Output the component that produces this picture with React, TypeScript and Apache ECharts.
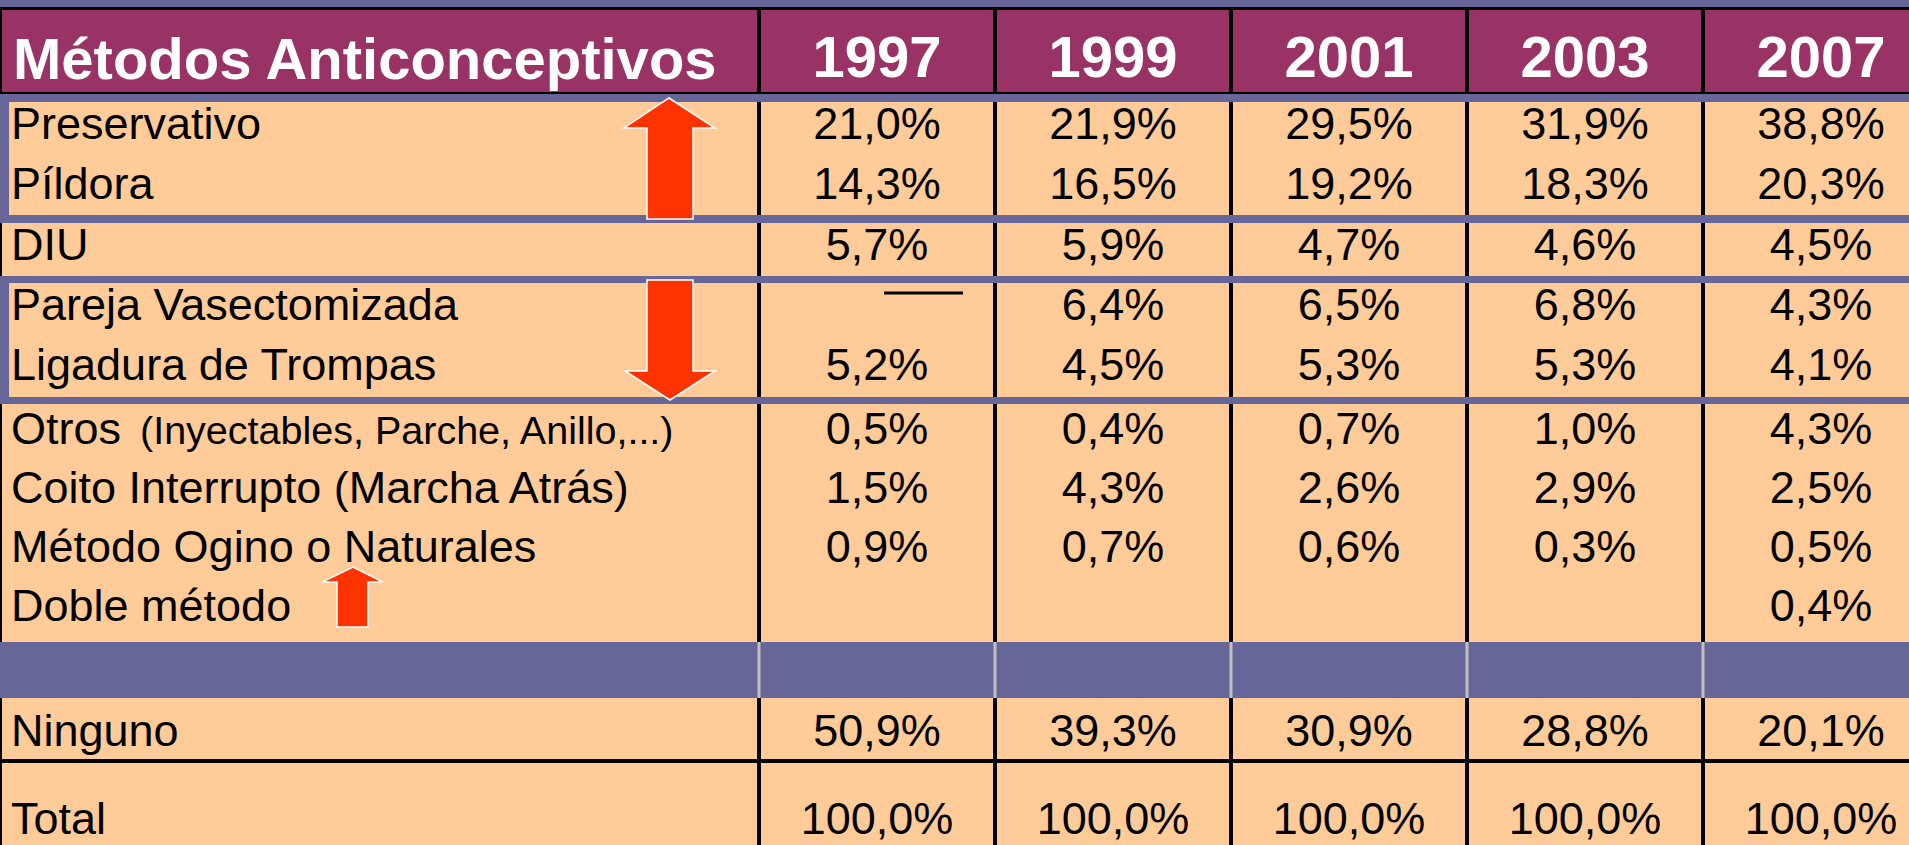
import React, { useEffect, useRef } from 'react';
import * as echarts from 'echarts';

// ---------------- data ----------------
const headerTitle = 'Métodos Anticonceptivos';
const years = ['1997', '1999', '2001', '2003', '2007'];
const methods = [
  'Preservativo',
  'Píldora',
  'DIU',
  'Pareja Vasectomizada',
  'Ligadura de Trompas',
  'Otros',
  'Coito Interrupto (Marcha Atrás)',
  'Método Ogino o Naturales',
  'Doble método',
];
const otrosNote = '(Inyectables, Parche, Anillo,...)';
const NOT_SURVEYED = 'n/d'; // drawn as a dash in the table
const v1997: (number | string | null)[] = [21.0, 14.3, 5.7, NOT_SURVEYED, 5.2, 0.5, 1.5, 0.9, null];
const v1999: (number | string | null)[] = [21.9, 16.5, 5.9, 6.4, 4.5, 0.4, 4.3, 0.7, null];
const v2001: (number | string | null)[] = [29.5, 19.2, 4.7, 6.5, 5.3, 0.7, 2.6, 0.6, null];
const v2003: (number | string | null)[] = [31.9, 18.3, 4.6, 6.8, 5.3, 1.0, 2.9, 0.3, null];
const v2007: (number | string | null)[] = [38.8, 20.3, 4.5, 4.3, 4.1, 4.3, 2.5, 0.5, 0.4];
const summaryLabels = ['Ninguno', 'Total'];
const ninguno = [50.9, 39.3, 30.9, 28.8, 20.1];
const total = [100.0, 100.0, 100.0, 100.0, 100.0];

const valuesByYear = [v1997, v1999, v2001, v2003, v2007];

// ---------------- layout & style ----------------
const W = 1909;
const H = 845;
const FONT = '"Liberation Sans", Arial, sans-serif';
const BODY_FS = 45;
const NOTE_FS = 39.5;
const HEAD_FS = 58;
const C_HEAD = '#993366';
const C_BODY = '#FFCC99';
const C_BLUE = '#666699';
const C_GRAY = '#C0C0C0';
const C_ARROW = '#FF3300';

const LABEL_X = 11;
const NOTE_X = 140;
const COL0 = 759;
const COL_W = 236;
const colCenter = (i: number) => COL0 + COL_W * (i + 0.5);
const colEdge = (i: number) => COL0 + COL_W * i;

const HEAD_TOP = 10;
const HEAD_BOTTOM = 93;
const HEAD_TEXT_Y = 56;
const ROW_Y = [123, 183, 244, 304, 364, 428, 487, 546, 605];
const SUMMARY_Y = [730, 818];
const BLUE_LINES = [[94, 102], [215, 223], [276, 283], [397, 404]];
const GROUP_SIDES = [[94, 223], [276, 404]];
const BAND = [642, 698];
const RULE = [759, 763];

const fmt = (v: number) => v.toFixed(1).replace('.', ',') + '%';

export default function App() {
  const ref = useRef<HTMLDivElement>(null);

  useEffect(() => {
    document.body.style.margin = '0';
    document.body.style.overflow = 'hidden';
    if (!ref.current) return;
    const chart = echarts.init(ref.current, undefined, { renderer: 'svg' });

    const frameRender = (_params: any, api: any) => {
      const P = (x: number, y: number) => api.coord([x, y]);
      const rect = (x1: number, y1: number, x2: number, y2: number, fill: string) => {
        const a = P(x1, y1);
        const b = P(x2, y2);
        return { type: 'rect', shape: { x: a[0], y: a[1], width: b[0] - a[0], height: b[1] - a[1] }, style: { fill } };
      };
      const ch: any[] = [];
      ch.push(rect(0, 0, W, H, C_BODY));
      ch.push(rect(0, 0, W, 7, C_BLUE));
      ch.push(rect(0, HEAD_TOP, W, HEAD_BOTTOM, C_HEAD));
      ch.push(rect(0, 7, W, HEAD_TOP, '#000'));
      ch.push(rect(0, HEAD_BOTTOM - 1, W, HEAD_BOTTOM + 1, '#000'));
      for (let i = 0; i < years.length; i++) {
        const x = colEdge(i);
        ch.push(rect(x - 2, 7, x + 2, H, '#000'));
      }
      ch.push(rect(0, 7, 2, H, '#000'));
      BLUE_LINES.forEach(([a, b]) => ch.push(rect(0, a, W, b, C_BLUE)));
      GROUP_SIDES.forEach(([a, b]) => ch.push(rect(0, a, 9, b, C_BLUE)));
      ch.push(rect(0, BAND[0], W, BAND[1], C_BLUE));
      for (let i = 0; i < years.length; i++) {
        const x = colEdge(i);
        ch.push(rect(x - 1.5, BAND[0], x + 1.5, BAND[1], C_GRAY));
      }
      ch.push(rect(0, RULE[0], W, RULE[1], '#000'));
      return { type: 'group', children: ch };
    };

    const cellRender = (_params: any, api: any) => {
      const r = api.value(2) as number;
      const P = (x: number, y: number) => api.coord([x, y]);
      const txt = (x: number, y: number, text: string, o: any = {}) => {
        const p = P(x, y);
        return {
          type: 'text',
          x: p[0],
          y: p[1],
          style: {
            text,
            fill: o.fill || '#000',
            fontSize: o.size || BODY_FS,
            fontWeight: o.weight || 'normal',
            fontFamily: FONT,
            align: o.align || 'left',
            verticalAlign: 'middle',
          },
        };
      };
      const ch: any[] = [];
      if (r === 0) {
        ch.push(txt(13, HEAD_TEXT_Y + 2, headerTitle, { fill: '#fff', size: HEAD_FS, weight: 'bold' }));
        years.forEach((y, i) =>
          ch.push(txt(colCenter(i), HEAD_TEXT_Y, y, { fill: '#fff', size: HEAD_FS, weight: 'bold', align: 'center' }))
        );
      } else if (r <= methods.length) {
        const i = r - 1;
        const y = ROW_Y[i];
        ch.push(txt(LABEL_X, y, methods[i]));
        if (methods[i] === 'Otros') {
          ch.push(txt(NOTE_X, y + 2.4, otrosNote, { size: NOTE_FS }));
        }
        valuesByYear.forEach((vals, c) => {
          const v = vals[i];
          if (v === null || v === undefined) return;
          if (v === NOT_SURVEYED) {
            const a = P(colCenter(c) + 7, y - 11);
            const b = P(colCenter(c) + 86, y - 11);
            ch.push({ type: 'line', shape: { x1: a[0], y1: a[1], x2: b[0], y2: b[1] }, style: { stroke: '#000', lineWidth: 3 } });
            return;
          }
          ch.push(txt(colCenter(c), y, fmt(v as number), { align: 'center' }));
        });
      } else {
        const k = r - methods.length - 1;
        const y = SUMMARY_Y[k];
        const vals = k === 0 ? ninguno : total;
        ch.push(txt(LABEL_X, y, summaryLabels[k]));
        vals.forEach((v, c) => ch.push(txt(colCenter(c), y, fmt(v), { align: 'center' })));
      }
      return { type: 'group', children: ch };
    };

    const rowCount = 1 + methods.length + summaryLabels.length;
    const rowData = Array.from({ length: rowCount }, (_, i) => [0, 0, i]);

    const arrowStyle = { fill: C_ARROW, stroke: '#FFFFFF', lineWidth: 1.5 };

    chart.setOption({
      animation: false,
      grid: { left: 0, right: 0, top: 0, bottom: 0, containLabel: false },
      xAxis: { type: 'value', min: 0, max: W, show: false },
      yAxis: { type: 'value', min: 0, max: H, inverse: true, show: false },
      tooltip: { show: false },
      series: [
        { type: 'custom', name: 'frame', silent: true, clip: false, z: 1, renderItem: frameRender, data: [[0, 0, 0]] },
        { type: 'custom', name: 'cells', silent: true, clip: false, z: 2, renderItem: cellRender, data: rowData },
      ],
      graphic: [
        {
          type: 'polygon',
          z: 100,
          shape: { points: [[669, 98], [715, 128], [693, 128], [693, 219], [647, 219], [647, 128], [624, 128]] },
          style: arrowStyle,
        },
        {
          type: 'polygon',
          z: 100,
          shape: { points: [[647, 280], [693, 280], [693, 371], [715, 371], [670, 400], [625, 371], [647, 371]] },
          style: arrowStyle,
        },
        {
          type: 'polygon',
          z: 100,
          shape: { points: [[353, 567], [383, 582], [368, 582], [368, 627], [337, 627], [337, 582], [322, 582]] },
          style: arrowStyle,
        },
      ],
    });

    return () => chart.dispose();
  }, []);

  return <div ref={ref} style={{ position: 'absolute', left: 0, top: 0, width: W, height: H }} />;
}
